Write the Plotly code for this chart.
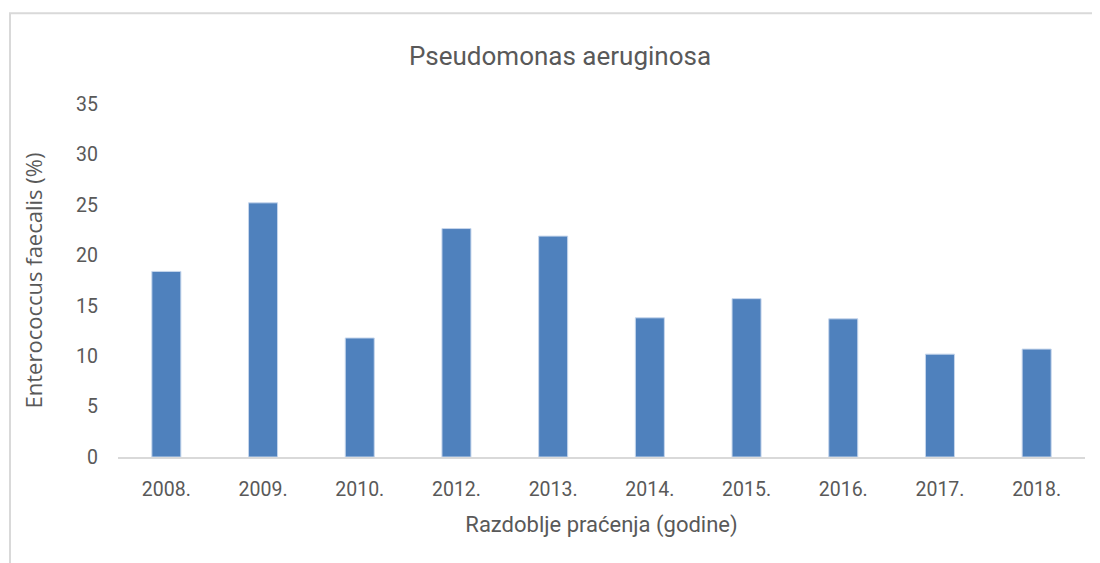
import plotly.graph_objects as go

years = ["2008.", "2009.", "2010.", "2012.", "2013.", "2014.", "2015.", "2016.", "2017.", "2018."]
values = [18.4, 25.2, 11.8, 22.65, 21.9, 13.8, 15.7, 13.7, 10.2, 10.7]
y_ticks = [0, 5, 10, 15, 20, 25, 30, 35]

title_text = "Pseudomonas aeruginosa"
x_title = "Razdoblje praćenja (godine)"
y_title = "Enterococcus faecalis (%)"

font_main = "Roboto, Liberation Sans, sans-serif"
grey = "#595959"

fig = go.Figure(go.Bar(
    x=years, y=values,
    marker=dict(color="#4F81BD", line=dict(color="#c6d6ec", width=1)),
))

# page is rendered with an 8px body margin, so the figure is 8px smaller
fig.update_layout(
    width=1092, height=555,
    margin=dict(l=110, r=15, t=96, b=105.5),
    paper_bgcolor="white", plot_bgcolor="white",
    bargap=0.7,
    showlegend=False,
    title=dict(text=title_text, x=0.5055, xanchor="center", y=0.9135, yanchor="middle",
               font=dict(family=font_main, size=26, color=grey)),
    xaxis=dict(
        showgrid=False, zeroline=False,
        showline=True, linecolor="#d9d9d9", linewidth=1.5,
        tickfont=dict(family=font_main, size=19.5, color=grey),
        ticklabelstandoff=14,
        title=dict(text=x_title, font=dict(family=font_main, size=22, color=grey), standoff=16),
    ),
    yaxis=dict(
        range=[0, 35], tickvals=y_ticks,
        showgrid=False, zeroline=False, showline=False,
        tickfont=dict(family=font_main, size=19.5, color=grey),
        ticklabelstandoff=19,
        title=dict(text=y_title, font=dict(family="Open Sans, DejaVu Sans, sans-serif", size=22, color=grey), standoff=27),
    ),
    shapes=[dict(type="rect", xref="paper", yref="paper",
                 x0=-0.1117, x1=1.2, y0=-0.5, y1=1.257,
                 line=dict(color="#d9d9d9", width=2), fillcolor="rgba(0,0,0,0)", layer="below")],
)

fig.write_html("out.html")
